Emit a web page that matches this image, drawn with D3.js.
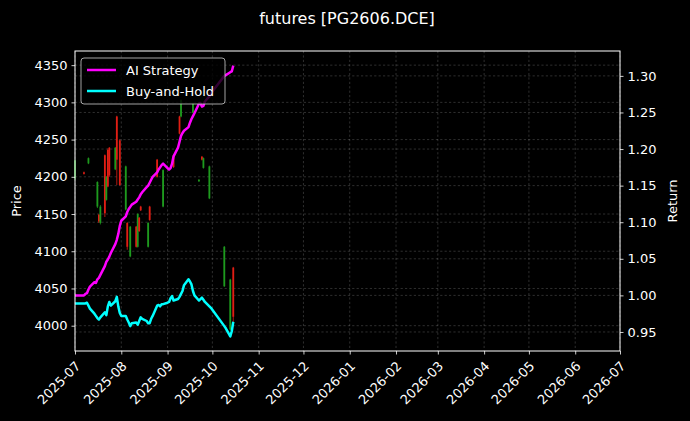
<!DOCTYPE html>
<html>
<head>
<meta charset="utf-8">
<script src="https://cdn.jsdelivr.net/npm/d3@7"></script>
<style>
  body { margin: 0; background: #000; }
  svg { display: block; font-family: "DejaVu Sans", sans-serif; }
</style>
</head>
<body>
<div id="chart"></div>
<script>
// trading days shown (DCE, Jul 1 - Oct 15 2025, National Day closed)
var dates = [
  "2025-07-01","2025-07-02","2025-07-03","2025-07-04","2025-07-07","2025-07-08","2025-07-09","2025-07-10","2025-07-11",
  "2025-07-14","2025-07-15","2025-07-16","2025-07-17","2025-07-18","2025-07-21","2025-07-22","2025-07-23","2025-07-24",
  "2025-07-25","2025-07-28","2025-07-29","2025-07-30","2025-07-31",
  "2025-08-01","2025-08-04","2025-08-05","2025-08-06","2025-08-07","2025-08-08","2025-08-11","2025-08-12","2025-08-13",
  "2025-08-14","2025-08-15","2025-08-18","2025-08-19","2025-08-20","2025-08-21","2025-08-22","2025-08-25","2025-08-26",
  "2025-08-27","2025-08-28","2025-08-29",
  "2025-09-01","2025-09-02","2025-09-03","2025-09-04","2025-09-05","2025-09-08","2025-09-09","2025-09-10","2025-09-11",
  "2025-09-12","2025-09-15","2025-09-16","2025-09-17","2025-09-18","2025-09-19","2025-09-22","2025-09-23","2025-09-24",
  "2025-09-25","2025-09-26","2025-09-29","2025-09-30",
  "2025-10-09","2025-10-10","2025-10-13","2025-10-14","2025-10-15"
];

var aiStrategy = [
  1.000,1.000,1.000,1.000,1.000,1.002,1.003,1.008,1.012,
  1.018,1.017,1.022,1.024,1.028,1.040,1.046,1.049,1.053,
  1.058,1.070,1.076,1.084,1.095,
  1.102,1.108,1.114,1.118,1.121,1.124,1.128,1.131,1.134,
  1.138,1.141,1.148,1.150,1.154,1.158,1.162,1.168,1.172,
  1.175,1.178,1.180,
  1.174,1.172,1.174,1.180,1.190,1.202,1.210,1.218,1.222,
  1.225,1.230,1.236,1.241,1.245,1.249,1.262,1.263,1.258,
  1.259,1.265,1.272,1.276,
  1.300,1.301,1.305,1.306,1.314
];

var buyHold = [
  0.989,0.989,0.989,0.989,0.989,0.989,0.990,0.986,0.982,
  0.975,0.972,0.969,0.967,0.970,0.977,0.973,0.985,0.991,
  0.986,0.992,0.998,0.985,0.976,
  0.972,0.972,0.967,0.963,0.958,0.962,0.963,0.960,0.965,
  0.970,0.968,0.965,0.962,0.962,0.968,0.972,0.986,0.987,
  0.985,0.988,0.988,
  0.990,0.991,0.996,0.999,0.993,0.995,0.998,1.002,1.006,
  1.014,1.022,1.019,1.015,1.006,1.000,0.993,0.995,0.997,
  0.994,0.991,0.985,0.983,
  0.958,0.955,0.944,0.951,0.964
];

// candles that show up in the picture
var candleDates = [
  "2025-07-01","2025-07-07","2025-07-10","2025-07-16","2025-07-17","2025-07-18","2025-07-21","2025-07-22","2025-07-23",
  "2025-07-24","2025-07-28","2025-07-29","2025-07-31","2025-08-04","2025-08-05","2025-08-07","2025-08-11","2025-08-12",
  "2025-08-13","2025-08-14","2025-08-19","2025-08-20","2025-08-25","2025-08-29","2025-09-05","2025-09-09","2025-09-10",
  "2025-09-18","2025-09-22","2025-09-24","2025-09-25","2025-09-29","2025-10-09","2025-10-13","2025-10-15"
];
var opens  = [4198,4206,4218,4160,4149,4138,4229,4169,4236,4239,4210,4281,4249,4156,4138,4093,4133,4106,4145,4160,4106,4160,4223,4160,4229,4281,4281,4286,4194,4227,4212,4171,4053,3995,4078];
var closes = [4222,4204,4225,4193,4140,4160,4151,4200,4187,4202,4239,4223,4189,4214,4106,4133,4106,4150,4127,4155,4138,4142,4200,4209,4213,4258,4303,4299,4196,4223,4225,4214,4106,4062,4012];
var highs  = [4223,4207,4226,4194,4150,4162,4230,4201,4238,4240,4240,4282,4250,4215,4139,4134,4134,4151,4146,4161,4139,4161,4224,4210,4230,4282,4304,4300,4197,4228,4226,4215,4107,4063,4079];
var lows   = [4196,4203,4217,4158,4138,4136,4146,4168,4186,4200,4209,4189,4188,4155,4102,4092,4105,4105,4126,4154,4105,4141,4199,4159,4212,4257,4280,4285,4193,4222,4211,4170,4052,3994,3999];

var monthTicks = ["2025-07","2025-08","2025-09","2025-10","2025-11","2025-12","2026-01","2026-02","2026-03","2026-04","2026-05","2026-06","2026-07"];
var priceTicks = [4000,4050,4100,4150,4200,4250,4300,4350];
var returnTicks = [0.95,1.00,1.05,1.10,1.15,1.20,1.25,1.30];

var width = 690, height = 421;
var plotL = 75, plotR = 620, plotT = 51, plotB = 351;
var parse = d3.timeParse("%Y-%m-%d");
var parseMonth = d3.timeParse("%Y-%m");

var svg = d3.select("#chart").append("svg")
    .attr("width", width)
    .attr("height", height)
    .style("background", "#000");

var x = d3.scaleTime()
    .domain([parseMonth("2025-07"), parseMonth("2026-07")])
    .range([plotL, plotR]);
var yPrice = d3.scaleLinear().domain([3966, 4369]).range([plotB, plotT]);
var yRet = d3.scaleLinear().domain([0.924, 1.334]).range([plotB, plotT]);

//grid
var grid = svg.append("g").attr("stroke", "#ffffff").attr("stroke-opacity", 0.3)
    .attr("stroke-width", 0.6).attr("stroke-dasharray", "2.2,2.2");
monthTicks.forEach(function(m) {
  var gx = x(parseMonth(m));
  grid.append("line").attr("x1", gx).attr("x2", gx).attr("y1", plotT).attr("y2", plotB);
});
priceTicks.forEach(function(p) {
  grid.append("line").attr("x1", plotL).attr("x2", plotR).attr("y1", yPrice(p)).attr("y2", yPrice(p));
});
returnTicks.forEach(function(r) {
  grid.append("line").attr("x1", plotL).attr("x2", plotR).attr("y1", yRet(r)).attr("y2", yRet(r));
});

//candles
var candles = candleDates.map(function(d, i) {
  return {date: parse(d), o: opens[i], c: closes[i], h: highs[i], l: lows[i]};
});
var cg = svg.append("g");
candles.forEach(function(d) {
  var col = d.c >= d.o ? "#1e9a1e" : "#e01e14";
  var cx = x(d.date);
  cg.append("line").attr("x1", cx).attr("x2", cx)
    .attr("y1", yPrice(d.h)).attr("y2", yPrice(d.l))
    .attr("stroke", col).attr("stroke-width", 0.8);
  var y0 = yPrice(Math.max(d.o, d.c)), y1 = yPrice(Math.min(d.o, d.c));
  cg.append("rect").attr("x", cx - 0.9).attr("width", 1.8)
    .attr("y", y0).attr("height", Math.max(1, y1 - y0))
    .attr("fill", col);
});

//return lines
var retLine = d3.line().x(function(d, i) { return x(parse(dates[i])); }).y(function(d) { return yRet(d); });
svg.append("path").datum(buyHold).attr("d", retLine)
  .attr("fill", "none").attr("stroke", "#00ffff").attr("stroke-width", 2.5).attr("stroke-linejoin", "round");
svg.append("path").datum(aiStrategy).attr("d", retLine)
  .attr("fill", "none").attr("stroke", "#ff00ff").attr("stroke-width", 2.5).attr("stroke-linejoin", "round");

//axes
function styleAxis(g) {
  g.select(".domain").remove();
  g.selectAll(".tick line").attr("stroke", "#fff").attr("stroke-width", 0.8);
  g.selectAll(".tick text").attr("fill", "#fff").style("font-size", "13px").style("font-family", "DejaVu Sans");
}
svg.append("g").attr("transform", "translate(0," + plotB + ")")
  .call(d3.axisBottom(x).tickValues(monthTicks.map(parseMonth)).tickFormat(d3.timeFormat("%Y-%m")).tickSize(3.5).tickPadding(3))
  .call(styleAxis)
  .selectAll(".tick text")
    .attr("text-anchor", "end")
    .attr("dy", "0.35em")
    .attr("transform", "translate(-2,8) rotate(-45)");

svg.append("g").attr("transform", "translate(" + plotL + ",0)")
  .call(d3.axisLeft(yPrice).tickValues(priceTicks).tickFormat(d3.format("d")).tickSize(3.5).tickPadding(4))
  .call(styleAxis);
svg.append("g").attr("transform", "translate(" + plotR + ",0)")
  .call(d3.axisRight(yRet).tickValues(returnTicks).tickFormat(d3.format(".2f")).tickSize(3.5).tickPadding(4))
  .call(styleAxis);

svg.append("rect").attr("x", plotL).attr("y", plotT).attr("width", plotR - plotL).attr("height", plotB - plotT)
  .attr("fill", "none").attr("stroke", "#fff").attr("stroke-width", 1);

//labels
svg.append("text").attr("x", 347).attr("y", 24).attr("text-anchor", "middle")
  .attr("fill", "#fff").style("font-size", "16px").text("futures [PG2606.DCE]");
svg.append("text").attr("transform", "translate(21," + (plotT + plotB) / 2 + ") rotate(-90)")
  .attr("text-anchor", "middle").attr("fill", "#fff").style("font-size", "13px").text("Price");
svg.append("text").attr("transform", "translate(677," + (plotT + plotB) / 2 + ") rotate(-90)")
  .attr("text-anchor", "middle").attr("fill", "#fff").style("font-size", "13px").text("Return");

//legend
var legendItems = [{name: "AI Strategy", color: "#ff00ff"}, {name: "Buy-and-Hold", color: "#00ffff"}];
var lg = svg.append("g").attr("transform", "translate(81,58)");
lg.append("rect").attr("width", 144).attr("height", 46).attr("rx", 3)
  .attr("fill", "#000").attr("fill-opacity", 0.8).attr("stroke", "#ccc").attr("stroke-width", 0.8);
legendItems.forEach(function(d, i) {
  var ly = 12 + i * 21;
  lg.append("line").attr("x1", 6).attr("x2", 35).attr("y1", ly).attr("y2", ly)
    .attr("stroke", d.color).attr("stroke-width", 2.5);
  lg.append("text").attr("x", 45).attr("y", ly).attr("dy", "0.35em")
    .attr("fill", "#fff").style("font-size", "13px").text(d.name);
});
</script>
</body>
</html>
